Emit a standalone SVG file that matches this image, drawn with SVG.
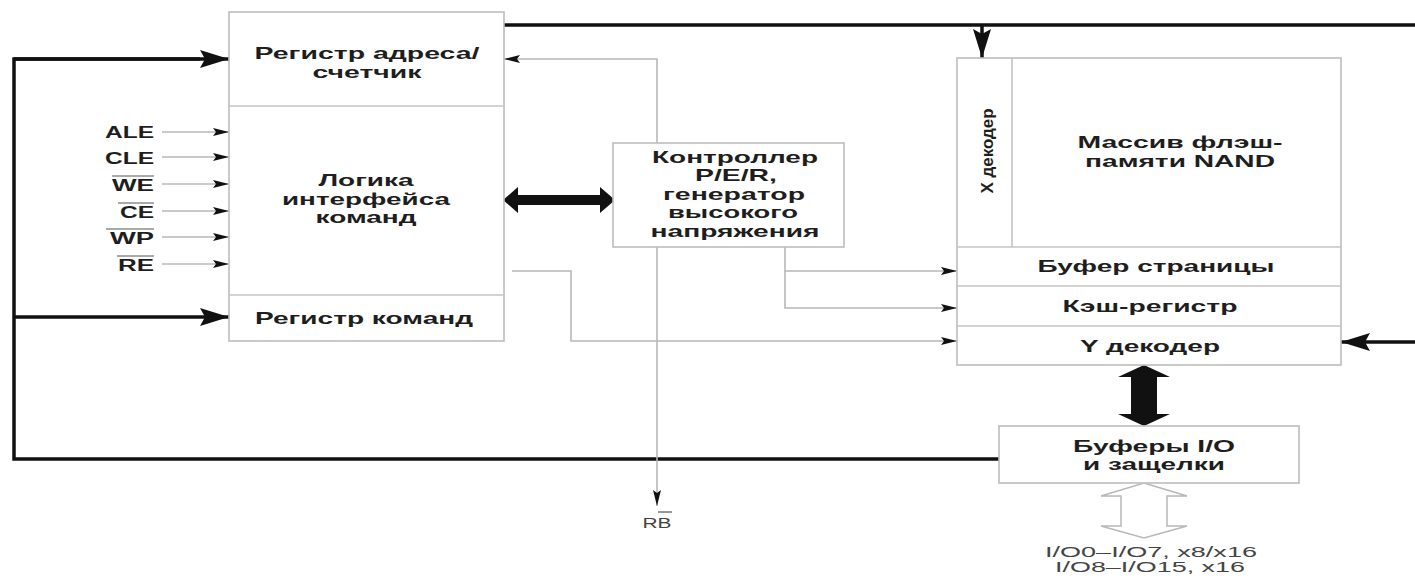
<svg xmlns="http://www.w3.org/2000/svg" width="1415" height="576" viewBox="0 0 1415 576">
<style>
.box{fill:#fff;stroke:#bdbdbd;stroke-width:1.6}
.div{stroke:#c4c4c4;stroke-width:1.6;fill:none}
.b{font-family:"Liberation Sans",Arial,sans-serif;font-weight:bold;font-size:17px;fill:#1e1e1e;text-anchor:middle}
.sig{font-family:"Liberation Sans",Arial,sans-serif;font-weight:bold;font-size:16px;fill:#1e1e1e;text-anchor:end}
.r{font-family:"Liberation Sans",Arial,sans-serif;font-size:14px;fill:#444;text-anchor:middle}
.thin{stroke:#b8b8b8;stroke-width:1.6;fill:none}
.thick{stroke:#111;stroke-width:3.5;fill:none}
.ov{stroke:#555;stroke-width:1.2}
</style>
<defs>
<marker id="sa" markerUnits="userSpaceOnUse" markerWidth="17" markerHeight="10" refX="16" refY="5" orient="auto"><path d="M0,1 L16,5 L0,9 L3,5 z" fill="#111"/></marker>
<marker id="ta" markerUnits="userSpaceOnUse" markerWidth="30" markerHeight="18" refX="29" refY="9" orient="auto"><path d="M0,0 L29,9 L0,18 L5,9 z" fill="#111"/></marker>
</defs>

<g id="connectors">
  <polyline class="thick" points="999,459 14,459 14,59 200,59"/>
  <line class="thick" x1="14" y1="59" x2="229" y2="59" marker-end="url(#ta)"/>
  <line class="thick" x1="14" y1="317" x2="229" y2="317" marker-end="url(#ta)"/>
  <line class="thick" x1="504" y1="25" x2="1415" y2="25"/>
  <line class="thick" x1="982" y1="25" x2="982" y2="58" marker-end="url(#ta)"/>
  <line class="thick" x1="1415" y1="342" x2="1341" y2="342" marker-end="url(#ta)"/>
  <line class="thin" x1="162" y1="132" x2="229" y2="132" marker-end="url(#sa)"/>
  <line class="thin" x1="162" y1="157" x2="229" y2="157" marker-end="url(#sa)"/>
  <line class="thin" x1="162" y1="184" x2="229" y2="184" marker-end="url(#sa)"/>
  <line class="thin" x1="162" y1="211" x2="229" y2="211" marker-end="url(#sa)"/>
  <line class="thin" x1="162" y1="237" x2="229" y2="237" marker-end="url(#sa)"/>
  <line class="thin" x1="162" y1="264" x2="229" y2="264" marker-end="url(#sa)"/>
  <polyline class="thin" points="657,143 657,59 504,59" marker-end="url(#sa)"/>
  <line class="thin" x1="657" y1="247" x2="657" y2="506" marker-end="url(#sa)"/>
  <polyline class="thin" points="785,247 785,271 957,271" marker-end="url(#sa)"/>
  <polyline class="thin" points="785,271 785,308 957,308" marker-end="url(#sa)"/>
  <polyline class="thin" points="512,271 571,271 571,341 957,341" marker-end="url(#sa)"/>
  <polygon points="503,200 518,187 518,195 600,195 600,187 615,200 600,213 600,205 518,205 518,213" fill="#111"/>
  <polygon points="1144,365 1170,377 1157,377 1157,414 1170,414 1144,426 1118,414 1131,414 1131,377 1118,377" fill="#111"/>
  <polygon points="1144,483 1187,496 1167,496 1167,526 1187,526 1144,538 1101,526 1121,526 1121,496 1101,496" fill="#fff" stroke="#b8b8b8" stroke-width="1.5"/>
</g>

<g id="node-logic">
  <rect class="box" x="229" y="12" width="275" height="329"/>
  <line class="div" x1="229" y1="106" x2="504" y2="106"/>
  <line class="div" x1="229" y1="295" x2="504" y2="295"/>
  <text class="b" x="367" y="59" textLength="225" lengthAdjust="spacingAndGlyphs">Регистр адреса/</text>
  <text class="b" x="367" y="78" textLength="109" lengthAdjust="spacingAndGlyphs">счетчик</text>
  <text class="b" x="366" y="186" textLength="95" lengthAdjust="spacingAndGlyphs">Логика</text>
  <text class="b" x="366" y="205" textLength="168" lengthAdjust="spacingAndGlyphs">интерфейса</text>
  <text class="b" x="366" y="223" textLength="101" lengthAdjust="spacingAndGlyphs">команд</text>
  <text class="b" x="364" y="324" textLength="218" lengthAdjust="spacingAndGlyphs">Регистр команд</text>
</g>

<g id="signals">
  <text class="sig" x="154" y="138" textLength="49" lengthAdjust="spacingAndGlyphs">ALE</text>
  <text class="sig" x="154" y="164" textLength="49" lengthAdjust="spacingAndGlyphs">CLE</text>
  <text class="sig" x="154" y="191" textLength="42" lengthAdjust="spacingAndGlyphs">WE</text>
  <line class="ov" x1="112" y1="176" x2="154" y2="176"/>
  <text class="sig" x="154" y="218" textLength="34" lengthAdjust="spacingAndGlyphs">CE</text>
  <line class="ov" x1="118" y1="203" x2="154" y2="203"/>
  <text class="sig" x="154" y="244" textLength="44" lengthAdjust="spacingAndGlyphs">WP</text>
  <line class="ov" x1="106" y1="229" x2="154" y2="229"/>
  <text class="sig" x="154" y="271" textLength="36" lengthAdjust="spacingAndGlyphs">RE</text>
  <line class="ov" x1="117" y1="256" x2="154" y2="256"/>
</g>

<g id="node-controller">
  <rect class="box" x="613" y="143" width="231" height="104"/>
  <text class="b" x="735" y="163" textLength="166" lengthAdjust="spacingAndGlyphs">Контроллер</text>
  <text class="b" x="736" y="181" textLength="82" lengthAdjust="spacingAndGlyphs">P/E/R,</text>
  <text class="b" x="734" y="200" textLength="142" lengthAdjust="spacingAndGlyphs">генератор</text>
  <text class="b" x="733" y="218" textLength="130" lengthAdjust="spacingAndGlyphs">высокого</text>
  <text class="b" x="735" y="237" textLength="169" lengthAdjust="spacingAndGlyphs">напряжения</text>
</g>

<g id="node-nand">
  <rect class="box" x="957" y="58" width="384" height="307"/>
  <line class="div" x1="1012" y1="58" x2="1012" y2="247"/>
  <line class="div" x1="957" y1="247" x2="1341" y2="247"/>
  <line class="div" x1="957" y1="286" x2="1341" y2="286"/>
  <line class="div" x1="957" y1="326" x2="1341" y2="326"/>
  <text class="b" transform="translate(993,151) rotate(-90)" textLength="85" lengthAdjust="spacingAndGlyphs" font-size="18">X декодер</text>
  <text class="b" x="1180" y="148" textLength="205" lengthAdjust="spacingAndGlyphs">Массив флэш-</text>
  <text class="b" x="1180" y="167" textLength="190" lengthAdjust="spacingAndGlyphs">памяти NAND</text>
  <text class="b" x="1156" y="272" textLength="237" lengthAdjust="spacingAndGlyphs">Буфер страницы</text>
  <text class="b" x="1150" y="312" textLength="175" lengthAdjust="spacingAndGlyphs">Кэш-регистр</text>
  <text class="b" x="1150" y="352" textLength="140" lengthAdjust="spacingAndGlyphs">Y декодер</text>
</g>

<g id="node-io">
  <rect class="box" x="999" y="426" width="300" height="57"/>
  <text class="b" x="1154" y="452" textLength="162" lengthAdjust="spacingAndGlyphs">Буферы I/O</text>
  <text class="b" x="1154" y="470" textLength="142" lengthAdjust="spacingAndGlyphs">и защелки</text>
</g>

<g id="labels">
  <text class="r" x="1151" y="557" textLength="212" lengthAdjust="spacingAndGlyphs">I/O0–I/O7, x8/x16</text>
  <text class="r" x="1150" y="572" textLength="190" lengthAdjust="spacingAndGlyphs">I/O8–I/O15, x16</text>
  <text class="r" x="657" y="528" textLength="29" lengthAdjust="spacingAndGlyphs">RB</text>
  <line class="ov" x1="658" y1="512" x2="672" y2="512"/>
</g>
</svg>
